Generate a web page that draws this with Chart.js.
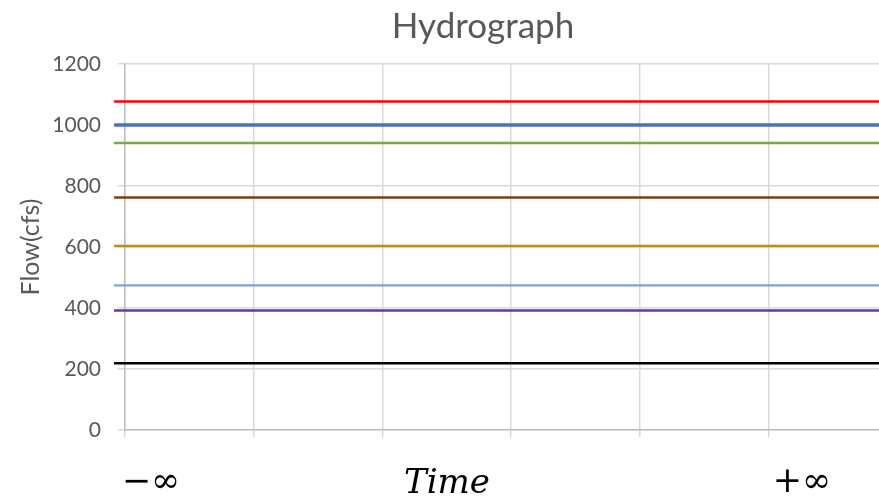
<!DOCTYPE html>
<html>
<head>
<meta charset="utf-8">
<title>Hydrograph</title>
<script src="https://cdn.jsdelivr.net/npm/chart.js@4/dist/chart.umd.min.js"></script>
<style>
  html, body { margin: 0; padding: 0; background: #ffffff; overflow: hidden; }
  #wrap { width: 958px; height: 498px; }
</style>
</head>
<body>
<div id="wrap"><canvas id="chart" width="958" height="498"></canvas></div>
<script>
// Constant flow levels (cfs), one horizontal series each
const flowLevels = [1077, 1000, 941, 762, 603, 474, 392, 219];
const seriesColors = ['#FF0000', '#4472C4', '#70AD47', '#843C0C', '#BF9000', '#7FA2DC', '#7030A0', '#000000'];
const seriesWidths = [2.5, 3.5, 2.5, 2.5, 2.5, 2.2, 2.5, 2.5];
// Time runs from minus to plus infinity; the series span slightly past both ends
const timeExtent = [-0.085, 6.1];
const yTickValues = [0, 200, 400, 600, 800, 1000, 1200];
const timeTickValues = [0, 1, 2, 3, 4, 5, 6];

const datasets = flowLevels.map((q, i) => ({
  data: timeExtent.map(t => ({ x: t, y: q })),
  borderColor: seriesColors[i],
  borderWidth: seriesWidths[i],
  pointRadius: 0,
  fill: false,
  tension: 0,
  clip: { left: 14, right: 14, top: 4, bottom: 4 }
}));

// Chart title plus the axis-end captions and time caption under the plot
const captions = {
  id: 'captions',
  afterDraw(chart) {
    const { ctx, chartArea } = chart;
    ctx.save();
    ctx.textAlign = 'center';
    ctx.textBaseline = 'middle';

    ctx.fillStyle = '#595959';
    ctx.font = '35px Lato';
    ctx.fillText('Hydrograph', 483, 27);

    ctx.fillStyle = '#000000';
    const y = chartArea.bottom + 53;
    ctx.font = '35px "DejaVu Serif"';
    ctx.fillText('\u2212\u221E', chartArea.left + 26, y);
    ctx.fillText('+\u221E', chartArea.left + 677, y);
    ctx.font = 'italic 34px "DejaVu Serif"';
    ctx.fillText('Time', chartArea.left + 322, y + 1);
    ctx.restore();
  }
};

new Chart(document.getElementById('chart'), {
  type: 'line',
  data: { datasets },
  options: {
    responsive: false,
    animation: false,
    layout: { padding: { left: 0, right: 61, top: 64, bottom: 0 } },
    plugins: {
      legend: { display: false },
      tooltip: { enabled: false },
      title: { display: false }
    },
    scales: {
      x: {
        type: 'linear',
        min: timeTickValues[0],
        max: timeTickValues[timeTickValues.length - 1],
        afterBuildTicks(scale) { scale.ticks = timeTickValues.map(v => ({ value: v })); },
        afterFit(scale) { scale.height = 68; },
        grid: { color: '#D9D9D9', lineWidth: 1.5, tickLength: 7, drawTicks: true },
        border: { color: '#BFBFBF', width: 1.5 },
        ticks: { callback: () => '', padding: 0 }
      },
      y: {
        min: yTickValues[0],
        max: yTickValues[yTickValues.length - 1],
        afterBuildTicks(scale) { scale.ticks = yTickValues.map(v => ({ value: v })); },
        afterFit(scale) { scale.width = 125; },
        grid: { color: '#D9D9D9', lineWidth: 1.5, tickLength: 7 },
        border: { color: '#BFBFBF', width: 1.5 },
        ticks: {
          color: '#595959',
          font: { family: 'Lato', size: 21 },
          padding: 17,
          callback: v => String(v)
        },
        title: {
          display: true,
          text: 'Flow(cfs)',
          color: '#595959',
          font: { family: 'Lato', size: 25 },
          padding: { top: 16, bottom: 0 }
        }
      }
    }
  },
  plugins: [captions]
});
</script>
</body>
</html>
